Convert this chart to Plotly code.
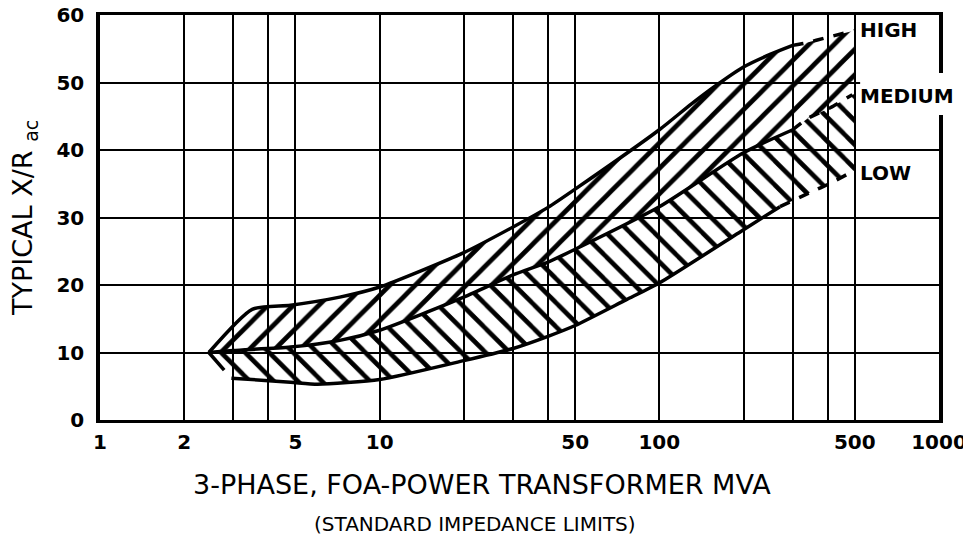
import plotly.graph_objects as go

# Typical X/R of 3-phase FOA power transformers vs. MVA rating.
# (log x axis, linear y axis).

# HIGH impedance limit (solid part, then dashed extension)
high_mva = [2.45, 3.5, 4.8, 7.2, 10, 20, 30, 40, 50, 100, 130, 160, 200, 250, 300]
high_xr = [10, 16.4, 17.0, 18.2, 19.7, 24.8, 28.6, 31.5, 34.2, 43.0, 46.8, 49.6, 52.3, 54.2, 55.5]
high_ext_mva = [300, 330, 400, 500]
high_ext_xr = [55.5, 55.8, 56.7, 57.7]

# MEDIUM impedance (typical)
med_mva = [2.45, 3.0, 4.8, 7.2, 10, 20, 30, 40, 50, 100, 200, 300]
med_xr = [10, 10.3, 10.8, 11.8, 13.3, 18.2, 21.5, 23.4, 25.3, 31.6, 39.6, 43.0]
med_ext_mva = [300, 340, 410, 490, 500]
med_ext_xr = [43.0, 44.7, 46.3, 48.2, 48.3]

# LOW impedance limit
low_mva = [2.95, 4.8, 6, 10, 20, 30, 40, 50, 76, 100, 200, 270]
low_xr = [6.2, 5.6, 5.3, 6.0, 8.8, 10.6, 12.4, 14.0, 17.8, 20.3, 28.2, 31.6]
low_ext_mva = [270, 350, 410, 500]
low_ext_xr = [31.6, 33.8, 35.1, 37.0]

# little notch at the left tip of the low band
tip_mva = [2.45, 2.78]
tip_xr = [10, 7.4]

x_grid = [1, 2, 3, 4, 5, 10, 20, 30, 40, 50, 100, 200, 300, 400, 500, 1000]
x_labels = ["1", "2", "", "", "5", "10", "", "", "", "50", "100", "", "", "", "500", "1000"]
y_ticks = [0, 10, 20, 30, 40, 50, 60]

curve_labels = ["HIGH", "MEDIUM", "LOW"]
label_xr = [57.8, 48.0, 36.6]

FONT = "DejaVu Sans"
INK = "black"

fig = go.Figure()

# upper band (HIGH..MEDIUM) hatched "/"
up_x = high_mva + high_ext_mva + med_ext_mva[::-1] + med_mva[::-1]
up_y = high_xr + high_ext_xr + med_ext_xr[::-1] + med_xr[::-1]
fig.add_trace(go.Scatter(
    x=up_x, y=up_y, mode="lines", fill="toself",
    line=dict(width=0), fillcolor="rgba(0,0,0,0)",
    fillpattern=dict(shape="/", size=18, solidity=0.26,
                     fgcolor=INK, fgopacity=1, bgcolor="rgba(0,0,0,0)"),
    hoverinfo="skip", showlegend=False,
))

# lower band (MEDIUM..LOW) hatched "\"
lo_x = med_mva + med_ext_mva + low_ext_mva[::-1] + low_mva[::-1] + tip_mva[::-1]
lo_y = med_xr + med_ext_xr + low_ext_xr[::-1] + low_xr[::-1] + tip_xr[::-1]
fig.add_trace(go.Scatter(
    x=lo_x, y=lo_y, mode="lines", fill="toself",
    line=dict(width=0), fillcolor="rgba(0,0,0,0)",
    fillpattern=dict(shape="\\", size=17, solidity=0.27,
                     fgcolor=INK, fgopacity=1, bgcolor="rgba(0,0,0,0)"),
    hoverinfo="skip", showlegend=False,
))

# boundary curves
for xs, ys, dash in [
    (high_mva, high_xr, "solid"), (high_ext_mva, high_ext_xr, "dash"),
    (med_mva, med_xr, "solid"), (med_ext_mva[:-1], med_ext_xr[:-1], "dash"),
    (low_mva, low_xr, "solid"), (low_ext_mva, low_ext_xr, "dash"),
    (tip_mva, tip_xr, "solid"),
]:
    fig.add_trace(go.Scatter(
        x=xs, y=ys, mode="lines",
        line=dict(color=INK, width=3.5, dash=dash, shape="spline", smoothing=0.6),
        hoverinfo="skip", showlegend=False,
    ))

# curve names at the right, beyond the 500 MVA line
for text, yv in zip(curve_labels, label_xr):
    fig.add_annotation(
        x=2.699, y=yv, xref="x", yref="y", text=text, showarrow=False,
        xanchor="left", xshift=3, font=dict(family=FONT, size=20, color=INK, weight="bold"),
    )

# blank out the frame/grid behind the MEDIUM label, as on the original
fig.add_shape(type="rect", xref="paper", yref="y", x0=0.906, x1=1.03, y0=45.2, y1=51.4,
              fillcolor="white", line=dict(width=0), layer="above")

fig.update_xaxes(
    type="log", range=[0, 3], automargin=False,
    tickmode="array", tickvals=x_grid, ticktext=x_labels,
    showgrid=True, gridcolor=INK, gridwidth=2,
    showline=True, linecolor=INK, linewidth=3, mirror=True,
    ticks="", ticklabelstandoff=2, ticklabeloverflow="allow",
    tickfont=dict(family=FONT, size=20, color=INK, weight="bold"),
    zeroline=False,
)
fig.update_yaxes(
    range=[0, 60], tickmode="array", tickvals=y_ticks, automargin=False,
    showgrid=True, gridcolor=INK, gridwidth=2,
    showline=True, linecolor=INK, linewidth=3.5, mirror=True,
    ticks="", ticklabelstandoff=8, ticklabeloverflow="allow",
    tickfont=dict(family=FONT, size=20, color=INK, weight="bold"),
    zeroline=False,
)

fig.add_annotation(
    x=-0.09, y=0.5, xref="paper", yref="paper", textangle=-90,
    xanchor="center", yanchor="middle",
    text="TYPICAL X/R <sub>ac</sub>", showarrow=False,
    font=dict(family=FONT, size=27, color=INK),
)
fig.add_annotation(
    x=0.455, y=-0.16, xref="paper", yref="paper", yanchor="middle",
    text="3-PHASE, FOA-POWER TRANSFORMER MVA", showarrow=False,
    font=dict(family=FONT, size=27, color=INK),
)
fig.add_annotation(
    x=0.447, y=-0.257, xref="paper", yref="paper", yanchor="middle",
    text="(STANDARD IMPEDANCE LIMITS)", showarrow=False,
    font=dict(family=FONT, size=20, color=INK),
)

# the page body adds an 8px offset, margins are set so the plot frame
# lands where it is on the original scan
fig.update_layout(
    width=963, height=527,
    margin=dict(l=92, r=32, t=7, b=115),
    paper_bgcolor="white", plot_bgcolor="white",
    showlegend=False,
)

fig.write_html("out.html")
